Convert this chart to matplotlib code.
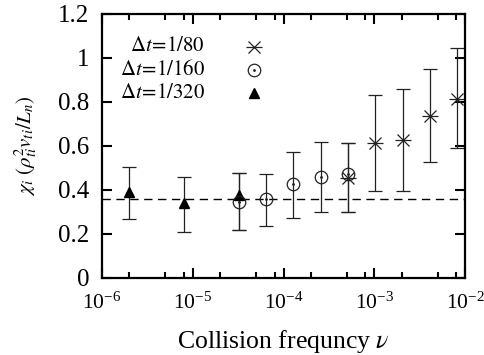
import matplotlib
matplotlib.use("Agg")
import matplotlib.pyplot as plt
from matplotlib.ticker import LogLocator, NullFormatter
import numpy as np

plt.rcParams['font.family'] = ['Liberation Serif', 'DejaVu Serif']
plt.rcParams['mathtext.fontset'] = 'stix'

# dt = 1/320 (triangles)
tri_nu = [2e-6, 8e-6, 3.2e-5]
tri_chi = [0.39, 0.34, 0.378]
tri_lo = [0.267, 0.209, 0.217]
tri_hi = [0.505, 0.46, 0.475]

# dt = 1/160 (circles)
circ_nu = [3.2e-5, 6.4e-5, 1.28e-4, 2.56e-4, 5.12e-4]
circ_chi = [0.346, 0.357, 0.425, 0.457, 0.47]
circ_lo = [0.217, 0.235, 0.27, 0.298, 0.30]
circ_hi = [0.475, 0.472, 0.573, 0.616, 0.611]

# dt = 1/80 (asterisks)
ast_nu = [5.12e-4, 1.024e-3, 2.048e-3, 4.096e-3, 8.192e-3]
ast_chi = [0.452, 0.611, 0.627, 0.736, 0.813]
ast_lo = [0.30, 0.396, 0.396, 0.525, 0.592]
ast_hi = [0.611, 0.83, 0.857, 0.948, 1.044]

chi_ref = 0.36

fig = plt.figure(figsize=(4.85, 3.55), dpi=100)
ax = fig.add_axes([0.2103, 0.2177, 0.7485, 0.7429])


def errs(y, lo, hi):
    y = np.array(y)
    return [y - np.array(lo), np.array(hi) - y]


ekw = dict(fmt='none', ecolor='#222222', elinewidth=0.9, capsize=5, capthick=0.9)
ax.errorbar(tri_nu, tri_chi, yerr=errs(tri_chi, tri_lo, tri_hi), **ekw)
ax.errorbar(circ_nu, circ_chi, yerr=errs(circ_chi, circ_lo, circ_hi), **ekw)
ax.errorbar(ast_nu, ast_chi, yerr=errs(ast_chi, ast_lo, ast_hi), **ekw)

ax.axhline(chi_ref, color='black', lw=1.0, ls=(0, (6, 4)))

ax.plot(tri_nu, tri_chi, ls='none', marker='^', ms=7, color='black')
ax.plot(circ_nu, circ_chi, ls='none', marker='o', ms=9, mfc='none', mec='#222222', mew=0.9)
ax.plot(circ_nu, circ_chi, ls='none', marker='.', ms=2, color='#222222')
ax.plot(ast_nu, ast_chi, ls='none', marker='x', ms=9, color='#222222', mew=0.9)
ax.plot(ast_nu, ast_chi, ls='none', marker='_', ms=11, color='#222222', mew=0.9)

# legend drawn by hand
labels = [r'$\mathit{\Delta t}\!=\!1/80$', r'$\mathit{\Delta t}\!=\!1/160$', r'$\mathit{\Delta t}\!=\!1/320$']
rows = [0.875, 0.787, 0.700]
for lab, yy in zip(labels, rows):
    ax.text(0.284, yy, lab, transform=ax.transAxes, ha='right', va='center', fontsize=15)
ax.plot([0.419], [rows[0]], transform=ax.transAxes, marker='x', ms=9, color='#222222', mew=0.9)
ax.plot([0.419], [rows[0]], transform=ax.transAxes, marker='_', ms=11, color='#222222', mew=0.9)
ax.plot([0.419], [rows[1]], transform=ax.transAxes, marker='o', ms=9, mfc='none', mec='#222222', mew=0.9)
ax.plot([0.419], [rows[1]], transform=ax.transAxes, marker='.', ms=2, color='#222222')
ax.plot([0.419], [rows[2]], transform=ax.transAxes, marker='^', ms=7, color='black')

ax.set_xscale('log')
ax.set_xlim(1e-6, 1e-2)
ax.set_ylim(0, 1.2)
ax.xaxis.set_major_locator(LogLocator(base=10, numticks=10))
ax.xaxis.set_minor_locator(LogLocator(base=10, subs=[2, 5, 8], numticks=20))
ax.xaxis.set_minor_formatter(NullFormatter())
ax.set_yticks([0, 0.2, 0.4, 0.6, 0.8, 1.0, 1.2])
ax.set_yticklabels(['0', '0.2', '0.4', '0.6', '0.8', '1', '1.2'])

ax.tick_params(which='both', direction='in', top=True, right=True, width=1.5)
ax.tick_params(which='major', length=7)
ax.tick_params(which='minor', length=4)
ax.tick_params(axis='y', labelsize=18, pad=9)
ax.tick_params(axis='x', labelsize=15.5, pad=11)
for s in ax.spines.values():
    s.set_linewidth(1.6)

ax.set_xlabel(r'Collision frequncy $\mathit{\nu}$', fontsize=18.5, labelpad=10)
ax.set_ylabel(r'$\chi_i\ (\rho_{ti}^2 v_{ti}/L_n)$', fontsize=15, labelpad=14)

fig.savefig('out.png', dpi=100)
